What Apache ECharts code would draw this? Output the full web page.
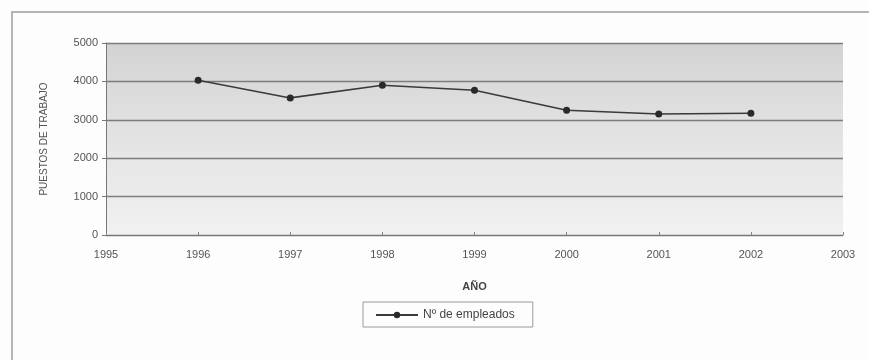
<!DOCTYPE html>
<html>
<head>
<meta charset="utf-8">
<script src="https://cdn.jsdelivr.net/npm/echarts@6/dist/echarts.min.js"></script>
<style>html,body{margin:0;padding:0;background:#fff;}#c{width:869px;height:360px;}</style>
</head>
<body>
<div id="c"></div>
<script>
const years = [1996, 1997, 1998, 1999, 2000, 2001, 2002];
const empleados = [4030, 3570, 3900, 3770, 3250, 3150, 3170];
const seriesName = 'Nº de empleados';
const xAxisTitle = 'AÑO';
const yAxisTitle = 'PUESTOS DE TRABAJO';

const chart = echarts.init(document.getElementById('c'), null, {renderer: 'canvas'});
const font = '"Liberation Sans", Arial, sans-serif';
chart.setOption({
  animation: false,
  backgroundColor: '#fdfdfd',
  textStyle: {fontFamily: font},
  graphic: [{
    type: 'rect', z: -1,
    shape: {x: 12, y: 12, width: 900, height: 400},
    style: {fill: 'none', stroke: '#b5b5b5', lineWidth: 2}
  }],
  grid: {
    left: 106, right: 26, top: 43, bottom: 125,
    show: true, borderWidth: 0,
    backgroundColor: new echarts.graphic.LinearGradient(0, 0, 0, 1, [
      {offset: 0, color: '#d3d3d3'},
      {offset: 0.45, color: '#e2e2e2'},
      {offset: 1, color: '#f1f1f1'}
    ])
  },
  legend: {
    top: 302, left: 363,
    data: [seriesName],
    borderColor: '#9a9a9a', borderWidth: 1, borderRadius: 0,
    padding: [7, 18, 6, 12],
    itemWidth: 42, itemHeight: 8, itemGap: 6,
    textStyle: {fontFamily: font, fontSize: 12, color: '#444'}
  },
  xAxis: {
    type: 'value', min: 1995, max: 2003, interval: 1,
    name: xAxisTitle, nameLocation: 'middle', nameGap: 46,
    nameTextStyle: {fontFamily: font, fontSize: 11, fontWeight: 'bold', color: '#444'},
    axisLine: {show: true, lineStyle: {color: '#777', width: 1}},
    axisTick: {show: true, inside: true, length: 3, lineStyle: {color: '#888'}},
    splitLine: {show: false},
    axisLabel: {fontFamily: font, fontSize: 11, color: '#555', margin: 14,
      formatter: v => String(v)}
  },
  yAxis: {
    type: 'value', min: 0, max: 5000, interval: 1000,
    name: yAxisTitle, nameLocation: 'middle', nameGap: 57,
    nameTextStyle: {fontFamily: font, fontSize: 10, color: '#555'},
    axisLine: {show: true, lineStyle: {color: '#777', width: 1}},
    axisTick: {show: true, inside: false, length: 4, lineStyle: {color: '#777'}},
    splitLine: {show: true, lineStyle: {color: '#7d7d7d', width: 1.3}},
    axisLabel: {fontFamily: font, fontSize: 11, color: '#555', margin: 8,
      formatter: v => String(v)}
  },
  series: [{
    name: seriesName,
    type: 'line',
    data: years.map((y, i) => [y, empleados[i]]),
    symbol: 'circle', symbolSize: 7,
    lineStyle: {color: '#3a3a3a', width: 1.6},
    itemStyle: {color: '#2a2a2a'}
  }]
});
</script>
</body>
</html>
